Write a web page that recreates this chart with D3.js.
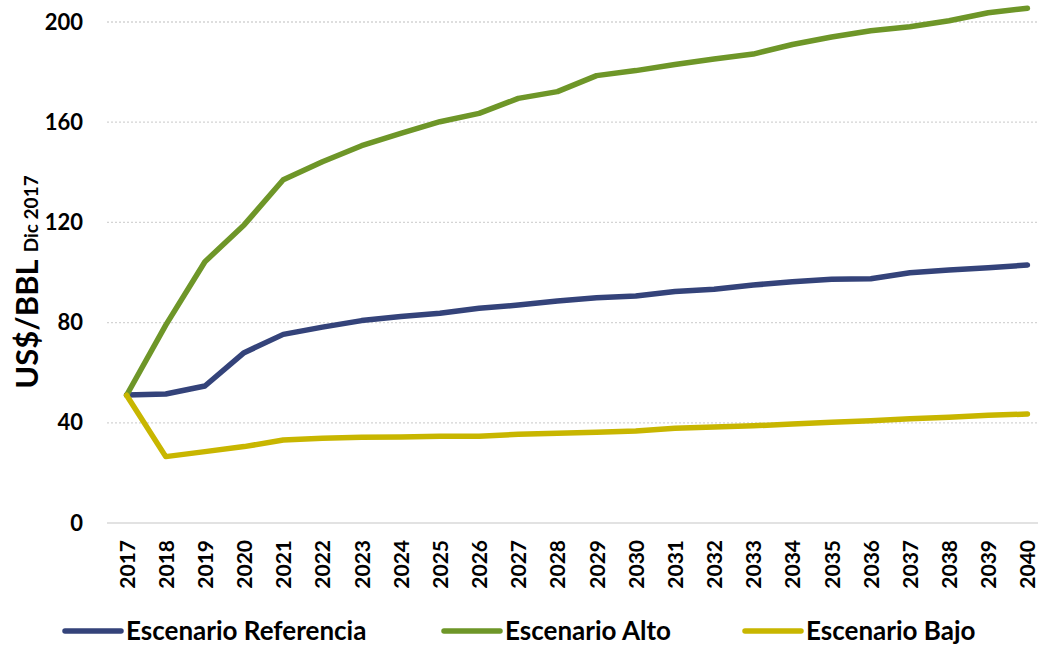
<!DOCTYPE html>
<html><head><meta charset="utf-8">
<script src="https://cdn.jsdelivr.net/npm/d3@7"></script>
<style>
html,body{margin:0;padding:0;background:#fff;}
svg{display:block;font-family:Lato,"Open Sans",sans-serif;}
</style></head>
<body>
<svg id="chart" width="1038" height="646"></svg>
<script>
const years = ["2017","2018","2019","2020","2021","2022","2023","2024","2025","2026","2027","2028","2029","2030","2031","2032","2033","2034","2035","2036","2037","2038","2039","2040"];
const referencia = [51.1,51.5,54.7,68,75.3,78.2,80.8,82.4,83.7,85.7,87,88.6,89.9,90.6,92.4,93.3,95,96.3,97.3,97.5,99.9,101,101.9,103];
const alto = [51,79,104.3,119,137,144.2,150.6,155.5,160.2,163.5,169.5,172.2,178.6,180.6,183,185.2,187.2,191,194,196.5,198.1,200.5,203.7,205.5];
const bajo = [51,26.5,28.5,30.5,33.1,33.8,34.2,34.3,34.6,34.6,35.4,35.8,36.2,36.7,37.8,38.3,38.8,39.5,40.2,40.8,41.6,42.2,43,43.5];
const yTicks = [0,40,80,120,160,200];
const seriesNames = ["Escenario Referencia","Escenario Alto","Escenario Bajo"];
const seriesColors = ["#34437a","#6e9628","#c8b600"];

const svg = d3.select("#chart");
const pLeft = 107, pRight = 1047, pTop = 22, pBottom = 523;
const x = d3.scalePoint().domain(years).range([pLeft, pRight]).padding(0.5);
const y = d3.scaleLinear().domain([0,200]).range([pBottom, pTop]);

// gridlines
svg.append("g").selectAll("line").data(yTicks.filter(d=>d>0)).join("line")
  .attr("x1", pLeft).attr("x2", pRight)
  .attr("y1", d=>y(d)).attr("y2", d=>y(d))
  .attr("stroke","#d4d4d4").attr("stroke-width",1.3).attr("stroke-dasharray","2,2");

// y axis
const yAxis = svg.append("g").attr("transform",`translate(${pLeft},0)`)
  .call(d3.axisLeft(y).tickValues(yTicks).tickSize(0).tickPadding(24));
yAxis.select(".domain").remove();
yAxis.selectAll("text").attr("font-size","22px").attr("font-weight","bold").attr("fill","#000")
  .attr("font-family","Lato,sans-serif");

// x axis
const xAxis = svg.append("g").attr("transform",`translate(0,${pBottom})`)
  .call(d3.axisBottom(x).tickSize(0));
xAxis.select(".domain").attr("stroke","#d9d9d9").attr("stroke-width",1.6)
  .attr("d",`M${pLeft},0H${pRight}`);
xAxis.selectAll("text")
  .attr("font-size","21px").attr("font-weight","bold").attr("fill","#000")
  .attr("font-family","Lato,sans-serif")
  .attr("transform","rotate(-90)")
  .attr("text-anchor","end").attr("x",-17).attr("y",0).attr("dy","0.36em");

// y title
const yt = svg.append("text")
  .attr("transform","translate(38,282) rotate(-90)")
  .attr("text-anchor","middle").attr("font-weight","bold").attr("fill","#000")
  .attr("font-family","Lato,sans-serif");
yt.append("tspan").attr("font-size","31px").text("US$/BBL");
yt.append("tspan").attr("font-size","19px").attr("dx","7").text("Dic 2017");

// lines
const data = [referencia, alto, bajo];
const line = d3.line().x((d,i)=>x(years[i])).y(d=>y(d));
svg.append("g").selectAll("path").data(data).join("path")
  .attr("d", line).attr("fill","none")
  .attr("stroke",(d,i)=>seriesColors[i]).attr("stroke-width",5.5)
  .attr("stroke-linecap","round").attr("stroke-linejoin","round");

// legend
const legendX = [65, 444, 745];
const lg = svg.append("g").selectAll("g").data(seriesNames).join("g")
  .attr("transform",(d,i)=>`translate(${legendX[i]},631)`);
lg.append("line").attr("x1",0).attr("x2",56).attr("y1",0).attr("y2",0)
  .attr("stroke",(d,i)=>seriesColors[i]).attr("stroke-width",5.5).attr("stroke-linecap","round");
lg.append("text").attr("x",61).attr("y",0).attr("dy","0.36em")
  .attr("font-size","26px").attr("font-weight","bold").attr("fill","#000")
  .attr("font-family","Lato,sans-serif").text(d=>d);
</script>
</body></html>
